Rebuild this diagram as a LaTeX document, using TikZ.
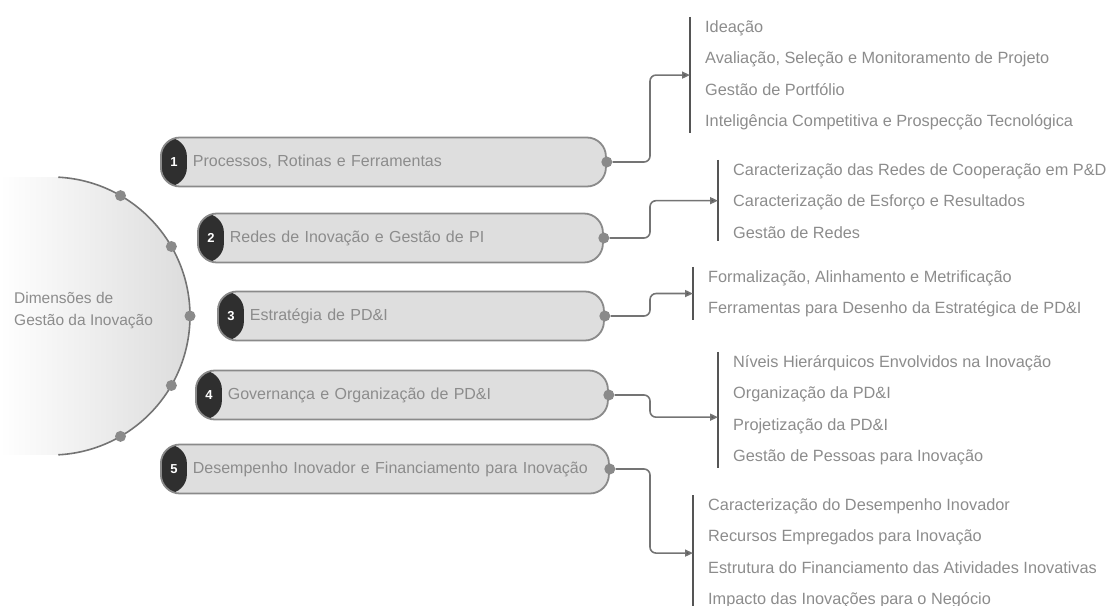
\documentclass[tikz,border=0pt]{standalone}
\usepackage{fontspec}
\setmainfont{Liberation Sans}
\usetikzlibrary{arrows.meta,calc}

\definecolor{barfill}{HTML}{DEDEDE}
\definecolor{barline}{HTML}{8A8A8A}
\definecolor{capdark}{HTML}{2F2F2F}
\definecolor{txtgray}{HTML}{8C8C8C}
\definecolor{linkgray}{HTML}{747474}
\definecolor{rulegray}{HTML}{555555}

\begin{document}
\begin{tikzpicture}[x=1pt,y=1pt,
    dimbar/.style={draw=barline, line width=1.8pt, fill=barfill,
      rounded corners=19pt, minimum height=49pt, inner xsep=0pt,
      anchor=west, align=left, text width=#1, text=txtgray,
      font=\fontsize{16}{18}\selectfont,
      path picture={\fill[capdark] (path picture bounding box.north west)
        rectangle ([xshift=26pt]path picture bounding box.south west);}},
    knob/.style={circle, fill=barline, inner sep=0pt, minimum size=11pt},
    itemlist/.style={anchor=north west, align=left, inner xsep=15pt,
      inner ysep=3pt, text=txtgray,
      font=\fontsize{16.3}{31.5}\selectfont},
    link/.style={draw=linkgray, line width=1.6pt, rounded corners=6pt,
      -{Triangle[length=8pt,width=7pt,fill=rulegray]}},
    rule/.style={draw=rulegray, line width=2.4pt}]
\useasboundingbox (0,0) rectangle (1110,605);

% hub
\coordinate (hub) at (51,289);
\shade[left color=white, right color=black!14]
    ($(hub)+(87:139)$) arc[start angle=87, end angle=-87, radius=139]
    -- (0,150) -- (0,428) -- cycle;
\draw[linkgray, line width=1.6pt]
    ($(hub)+(87:139)$) arc[start angle=87, end angle=-87, radius=139];
\foreach \a [count=\i] in {60,30,0,-30,-60}
    \node[knob] (h\i) at ($(hub)+(\a:139)$) {};
\node[anchor=west, align=left, text=txtgray, inner sep=0pt,
    font=\fontsize{15.5}{22}\selectfont] (hubtxt) at (14,294)
    {Dimensões de\\Gestão da Inovação};

% dimensions
\newcommand{\nr}[1]{\makebox[26pt]{\textcolor{white}{\bfseries\fontsize{13}{13}\selectfont #1}}\hspace{6pt}}
\node[dimbar=445pt] (b1) at (160,443) {\nr{1}Processos, Rotinas e Ferramentas};
\node[dimbar=405pt] (b2) at (197,367) {\nr{2}Redes de Inovação e Gestão de PI};
\node[dimbar=386pt] (b3) at (217,289) {\nr{3}Estratégia de PD\&I};
\node[dimbar=412pt] (b4) at (195,210) {\nr{4}Governança e Organização de PD\&I};
\node[dimbar=448pt] (b5) at (160,136) {\nr{5}Desempenho Inovador e Financiamento para Inovação};
\foreach \i in {1,...,5}
    \node[knob] (k\i) at (b\i.east) {};

% sub-items
\node[itemlist] (l1) at (690,588) {Ideação\\Avaliação, Seleção e Monitoramento de Projeto\\Gestão de Portfólio\\Inteligência Competitiva e Prospecção Tecnológica};
\node[itemlist] (l2) at (718,445) {Caracterização das Redes de Cooperação em P\&D\\Caracterização de Esforço e Resultados\\Gestão de Redes};
\node[itemlist] (l3) at (693,338) {Formalização, Alinhamento e Metrificação\\Ferramentas para Desenho da Estratégica de PD\&I};
\node[itemlist] (l4) at (718,253) {Níveis Hierárquicos Envolvidos na Inovação\\Organização da PD\&I\\Projetização da PD\&I\\Gestão de Pessoas para Inovação};
\node[itemlist] (l5) at (693,110) {Caracterização do Desempenho Inovador\\Recursos Empregados para Inovação\\Estrutura do Financiamento das Atividades Inovativas\\Impacto das Inovações para o Negócio};
\foreach \i in {1,...,5}
    \draw[rule] (l\i.north west) -- (l\i.south west);

% connectors
\draw[link] (k1.east) -- (650,443) |- (l1.west);
\draw[link] (k2.east) -- (650,367) |- (l2.west);
\draw[link] (k3.east) -- (650,289) |- (l3.west);
\draw[link] (k4.east) -- (650,210) |- ([yshift=-7pt]l4.west);
\draw[link] (k5.east) -- (650,136) |- (l5.west);
\end{tikzpicture}
\end{document}
